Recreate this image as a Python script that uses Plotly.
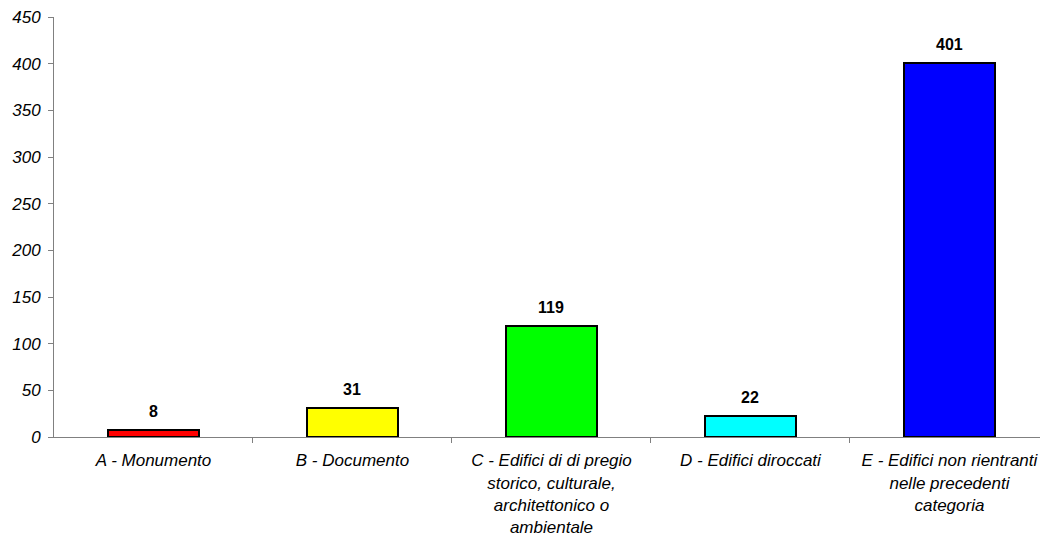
import plotly.graph_objects as go

categories = [
    "A - Monumento",
    "B - Documento",
    "C - Edifici di di pregio<br>storico, culturale,<br>architettonico o<br>ambientale",
    "D - Edifici diroccati",
    "E - Edifici non rientranti<br>nelle precedenti<br>categoria",
]
values = [8, 31, 119, 22, 401]
colors = ["#FF0000", "#FFFF00", "#00FF00", "#00FFFF", "#0000FF"]
y_ticks = [0, 50, 100, 150, 200, 250, 300, 350, 400, 450]
boundaries = [0.5, 1.5, 2.5, 3.5]

fig = go.Figure(
    go.Bar(
        x=list(range(len(categories))),
        y=values,
        width=0.457,
        marker=dict(color=colors, line=dict(color="black", width=2)),
        hoverinfo="y",
        cliponaxis=False,
    )
)

for i, v in enumerate(values):
    fig.add_annotation(
        x=i, y=v, text=str(v), showarrow=False,
        yanchor="bottom", yshift=8,
        font=dict(family="Liberation Sans", size=16, color="black", weight="bold"),
    )

fig.update_layout(
    width=1040,
    height=535,
    margin=dict(l=54, r=0, t=17, b=98, autoexpand=False),
    plot_bgcolor="white",
    paper_bgcolor="white",
    showlegend=False,
    font=dict(family="Liberation Sans", size=17, color="black"),
    bargap=0,
)

fig.update_xaxes(
    type="linear",
    range=[-0.5, 4.455],
    tickvals=list(range(len(categories))),
    ticktext=categories,
    ticks="",
    showline=True,
    linecolor="#808080",
    linewidth=1,
    showgrid=False,
    zeroline=False,
    automargin=False,
    tickfont=dict(family="Liberation Sans", size=17, style="italic"),
    ticklabelstandoff=8,
)

# boundary ticks
fig.update_layout(
    xaxis2=dict(
        overlaying="x",
        matches="x",
        tickvals=boundaries,
        ticktext=["" for _ in boundaries],
        ticks="outside",
        ticklen=5,
        tickcolor="#808080",
        showline=False,
        showgrid=False,
        zeroline=False,
        automargin=False,
        anchor="y",
        side="bottom",
    )
)
fig.add_trace(go.Scatter(x=[0], y=[0], xaxis="x2", mode="markers", marker=dict(opacity=0), hoverinfo="skip"))

fig.update_yaxes(
    range=[0, 450],
    tickvals=y_ticks,
    ticks="outside",
    ticklen=5,
    tickcolor="#808080",
    showline=True,
    linecolor="#808080",
    linewidth=1,
    showgrid=False,
    zeroline=False,
    automargin=False,
    tickfont=dict(family="Liberation Sans", size=17, style="italic"),
    ticklabelstandoff=4,
)

fig.write_html(
    "out.html",
    config={"displayModeBar": False},
    post_script="document.body.style.margin='0px';document.body.style.overflow='hidden';",
)
